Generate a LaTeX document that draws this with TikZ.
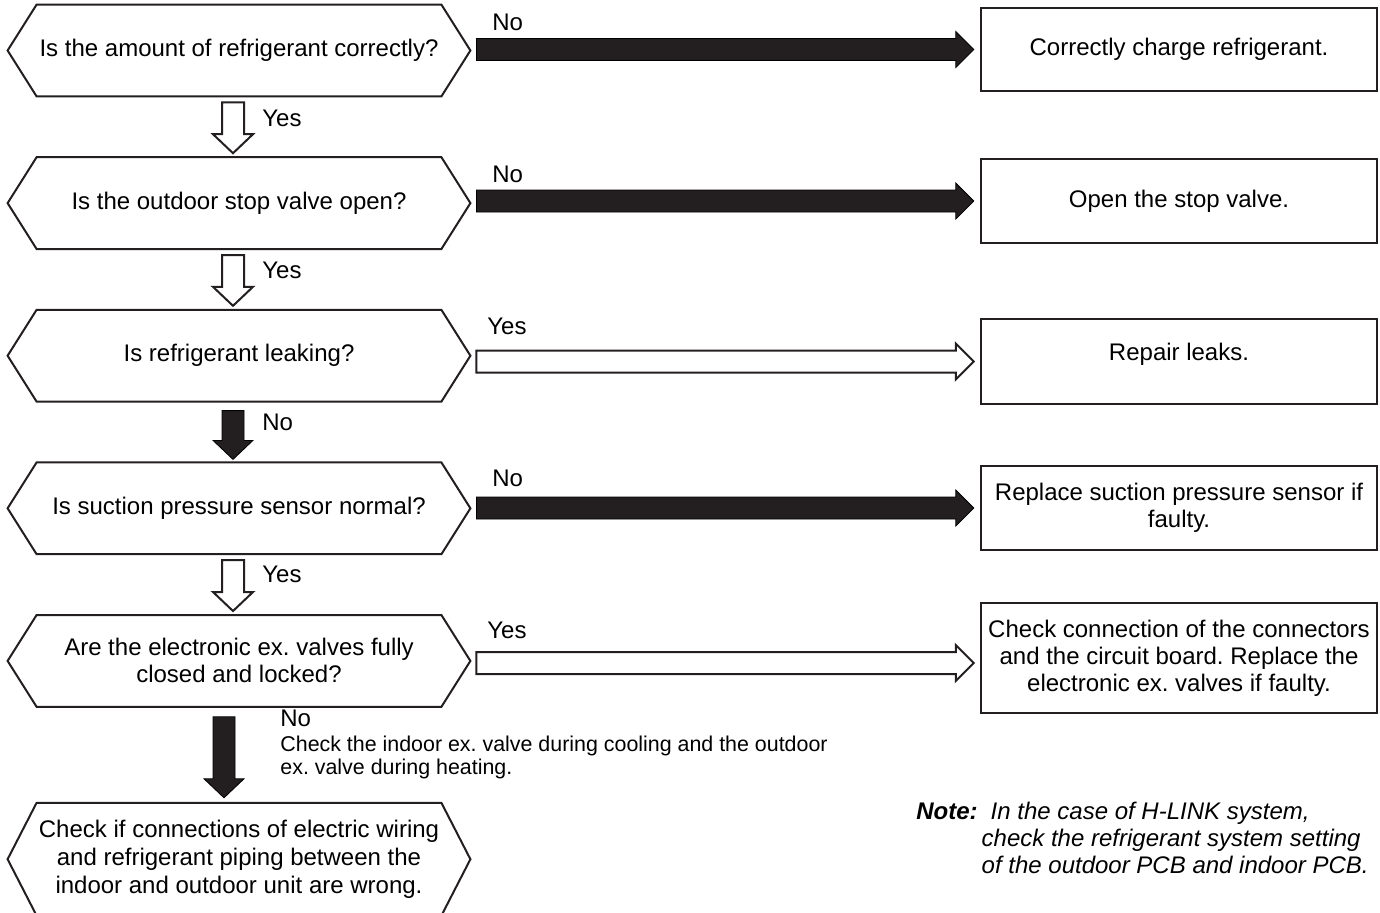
\documentclass[tikz,border=0pt]{standalone}
\usepackage{fontspec}
\setmainfont{Liberation Sans}
\usetikzlibrary{positioning,calc}
\definecolor{ink}{HTML}{231F20}
\frenchspacing

\begin{document}
\begin{tikzpicture}[
  x=0.5pt,y=0.5pt,
  node distance=30.4pt,
  ask/.style={minimum width=231pt,minimum height=45.5pt,inner sep=0pt,align=center,font=\fontsize{12pt}{13.5pt}\selectfont},
  answer/.style={draw=ink,line width=1.2pt,minimum width=198pt,minimum height=42pt,inner sep=0pt,align=center,font=\fontsize{12pt}{13.5pt}\selectfont},
  lab/.style={font=\fontsize{12pt}{13.5pt}\selectfont,inner sep=0pt,anchor=west},
  hblk/.style={to path={let \p1=(\tikztostart),\p2=(\tikztotarget) in
      (\x1,\y1+5.5pt) -- (\x2-9pt,\y1+5.5pt) -- (\x2-9pt,\y1+9pt) -- (\x2,\y1)
      -- (\x2-9pt,\y1-9pt) -- (\x2-9pt,\y1-5.5pt) -- (\x1,\y1-5.5pt) -- cycle}},
  vblk/.style={to path={let \p1=(\tikztostart),\p2=(\tikztotarget) in
      (\x1-5.5pt,\y1) -- (\x1-5.5pt,\y2+9.5pt) -- (\x1-10pt,\y2+9.5pt) -- (\x1,\y2)
      -- (\x1+10pt,\y2+9.5pt) -- (\x1+5.5pt,\y2+9.5pt) -- (\x1+5.5pt,\y1) -- cycle}},
  openarr/.style={draw=ink,fill=white,line width=1pt},
  filledarr/.style={fill=ink}]
\useasboundingbox (0,0) rectangle (1380,-912);
% questions
\node[ask] (q1) at (239,-50.5) {Is the amount of refrigerant correctly?};
\node[ask,below=of q1] (q2) {Is the outdoor stop valve open?};
\node[ask,below=of q2] (q3) {Is refrigerant leaking?};
\node[ask,below=of q3] (q4) {Is suction pressure sensor normal?};
\node[ask,below=of q4] (q5) {Are the electronic ex. valves fully\\closed and locked?};
\node[ask,below=48pt of q5,minimum height=56pt,font=\fontsize{12pt}{14.2pt}\selectfont] (q6)
  {Check if connections of electric wiring\\and refrigerant piping between the\\indoor and outdoor unit are wrong.};
\foreach \n in {q1,q2,q3,q4,q5,q6}
  \draw[ink,line width=1pt] (\n.west) -- ($(\n.north west)+(29,0)$) -- ($(\n.north east)+(-29,0)$)
    -- (\n.east) -- ($(\n.south east)+(-29,0)$) -- ($(\n.south west)+(29,0)$) -- cycle;
% remedies
\node[answer,minimum height=41.5pt] (r1) at (1179,-49.5) {Correctly charge refrigerant.};
\node[answer] (r2) at (1179,-201) {Open the stop valve.};
\node[answer,minimum height=42.5pt] (r3) at (1179,-361.5) {\raisebox{10pt}{Repair leaks.}};
\node[answer] (r4) at (1179,-508) {Replace suction pressure sensor if\\faulty.};
\node[answer,minimum height=55pt] (r5) at (1179,-658)
  {Check connection of the connectors\\and the circuit board. Replace the\\electronic ex. valves if faulty.};
% sideways arrows
\draw[hblk,filledarr] ($(q1.east |- r1.west)+(6,0)$) to ($(r1.west)+(-6,0)$);
\draw[hblk,filledarr] ($(q2.east |- r2.west)+(6,0)$) to ($(r2.west)+(-6,0)$);
\draw[hblk,openarr] ($(q3.east |- r3.west)+(6,0)$) to ($(r3.west)+(-6,0)$);
\draw[hblk,filledarr] ($(q4.east |- r4.west)+(6,0)$) to ($(r4.west)+(-6,0)$);
\draw[hblk,openarr] ($(q5.east |- r5.west)+(6,-5)$) to ($(r5.west)+(-6,-5)$);
\node[lab] (a1) at (492,-22) {No};
\node[lab] (a2) at (492,-174) {No};
\node[lab] (a3) at (487,-326) {Yes};
\node[lab] (a4) at (492,-478) {No};
\node[lab] (a5) at (487,-630) {Yes};
% downward arrows
\draw[vblk,openarr] ($(q1.south)+(-6,-6)$) to ($(q2.north)+(-6,4)$);
\draw[vblk,openarr] ($(q2.south)+(-6,-6)$) to ($(q3.north)+(-6,4)$);
\draw[vblk,filledarr] ($(q3.south)+(-6,-9)$) to ($(q4.north)+(-6,3)$);
\draw[vblk,openarr] ($(q4.south)+(-6,-6)$) to ($(q5.north)+(-6,4)$);
\draw[vblk,filledarr] ($(q5.south)+(-15,-10)$) to ($(q6.north)+(-15,5)$);
\node[lab] (d1) at (262,-118) {Yes};
\node[lab] (d2) at (262,-270) {Yes};
\node[lab] (d3) at (262,-422) {No};
\node[lab] (d4) at (262,-574) {Yes};
\node[lab] (d5) at (280,-718) {No};
\node[inner sep=0pt,anchor=north west,align=left,font=\fontsize{10.7pt}{11.5pt}\selectfont] (hint) at (280,-736)
  {Check the indoor ex. valve during cooling and the outdoor\\ex. valve during heating.};
% note
\node[inner sep=0pt,anchor=north west,font=\fontsize{12pt}{13.5pt}\selectfont] (note) at (916,-800)
  {\begin{tabular}{@{}l@{\hspace{2pt}}l@{}}
   \textbf{\textit{Note:}} & \hspace{4.5pt}\textit{In the case of H-LINK system,}\\
   & \textit{check the refrigerant system setting}\\
   & \textit{of the outdoor PCB and indoor PCB.}
   \end{tabular}};
\end{tikzpicture}
\end{document}
